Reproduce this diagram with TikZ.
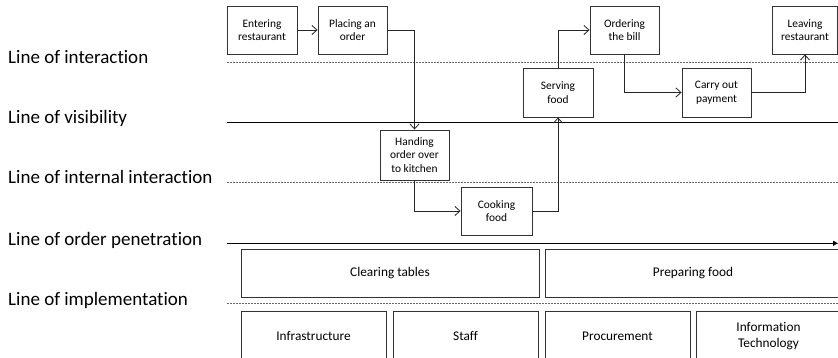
\documentclass[tikz,border=0pt]{standalone}
\usepackage{fontspec}
\setmainfont{Carlito}[Ligatures={NoCommon,NoDiscretionary}]
\usetikzlibrary{arrows.meta}
\begin{document}
\begin{tikzpicture}[x=1pt,y=-1pt,
  stepbox/.style={draw=black!80, line width=0.9pt, rectangle, inner sep=0pt,
    align=center, font=\fontsize{11.4}{13.6}\selectfont},
  basebox/.style={draw=black!80, line width=0.9pt, rectangle, inner sep=0pt,
    align=center, font=\fontsize{13.3}{15.8}\selectfont},
  flow/.style={draw=black!85, line width=0.8pt, -{Straight Barb[length=5pt,width=9pt,line width=0.8pt]}},
  solidline/.style={draw=black, line width=0.9pt},
  dotline/.style={draw=black!60, line width=0.9pt, dash pattern=on 2pt off 1pt},
  linelabel/.style={anchor=base west, inner sep=0pt, font=\fontsize{19}{21}\selectfont}]
\useasboundingbox (0,0) rectangle (838,358);

% lines of the blueprint
\coordinate (l1a) at (227,62);    \coordinate (l1b) at (838,62);
\coordinate (l2a) at (227,122.5); \coordinate (l2b) at (838,122.5);
\coordinate (l3a) at (227,182.5); \coordinate (l3b) at (838,182.5);
\coordinate (l4a) at (227,243.3); \coordinate (l4b) at (838,243.3);
\coordinate (l5a) at (227,303.3); \coordinate (l5b) at (838,303.3);
\draw[dotline] (l1a) -- (l1b);
\draw[solidline] (l2a) -- (l2b);
\draw[dotline] (l3a) -- (l3b);
\draw[solidline, -{Triangle[length=5pt,width=5pt]}] (l4a) -- (l4b);
\draw[dotline] (l5a) -- (l5b);

% line names
\node[linelabel] (n1) at (8,64) {Line of interaction};
\node[linelabel] (n2) at (8,123.5) {Line of visibility};
\node[linelabel] (n3) at (8,184) {Line of internal interaction};
\node[linelabel] (n4) at (8,245) {Line of order penetration};
\node[linelabel] (n5) at (8,305.5) {Line of implementation};

% process steps
\node[stepbox, minimum width=70pt, minimum height=48pt] (enter) at (262,30) {Entering\\restaurant};
\node[stepbox, minimum width=69pt, minimum height=48pt] (place) at (352.5,30) {Placing an\\order};
\node[stepbox, minimum width=69pt, minimum height=50pt] (hand) at (414.5,155) {Handing\\order over\\to kitchen};
\node[stepbox, minimum width=71pt, minimum height=48pt] (cook) at (496.5,211) {Cooking\\food};
\node[stepbox, minimum width=70pt, minimum height=49pt] (serve) at (558,92.5) {Serving\\food};
\node[stepbox, minimum width=69pt, minimum height=48pt] (bill) at (624.5,30) {Ordering\\the bill};
\node[stepbox, minimum width=69pt, minimum height=49pt] (pay) at (716.5,92.5) {Carry out\\payment};
\node[stepbox, minimum width=65pt, minimum height=48pt] (leave) at (805,30) {Leaving\\restaurant};

% support processes and resources
\node[basebox, minimum width=298pt, minimum height=48pt] (clear) at (390,273) {Clearing tables};
\node[basebox, minimum width=296pt, minimum height=48pt] (prep) at (693,273) {Preparing food};
\node[basebox, minimum width=145pt, minimum height=50pt] (infra) at (313.5,336) {Infrastructure};
\node[basebox, minimum width=145pt, minimum height=50pt] (staff) at (465.5,336) {Staff};
\node[basebox, minimum width=145pt, minimum height=50pt] (proc) at (617.5,336) {Procurement};
\node[basebox, minimum width=145pt, minimum height=50pt] (itech) at (768.5,336) {Information\\Technology};

% flow between steps
\draw[flow] (enter.east) -- (place.west);
\draw[flow] (place.east) -| (hand.north);
\draw[flow] (hand.south) |- (cook.west);
\draw[flow] (cook.east) -| (serve.south);
\draw[flow] (serve.north) |- (bill.west);
\draw[flow] (bill.south) |- (pay.west);
\draw[flow] (pay.east) -| (leave.south);
\end{tikzpicture}
\end{document}
